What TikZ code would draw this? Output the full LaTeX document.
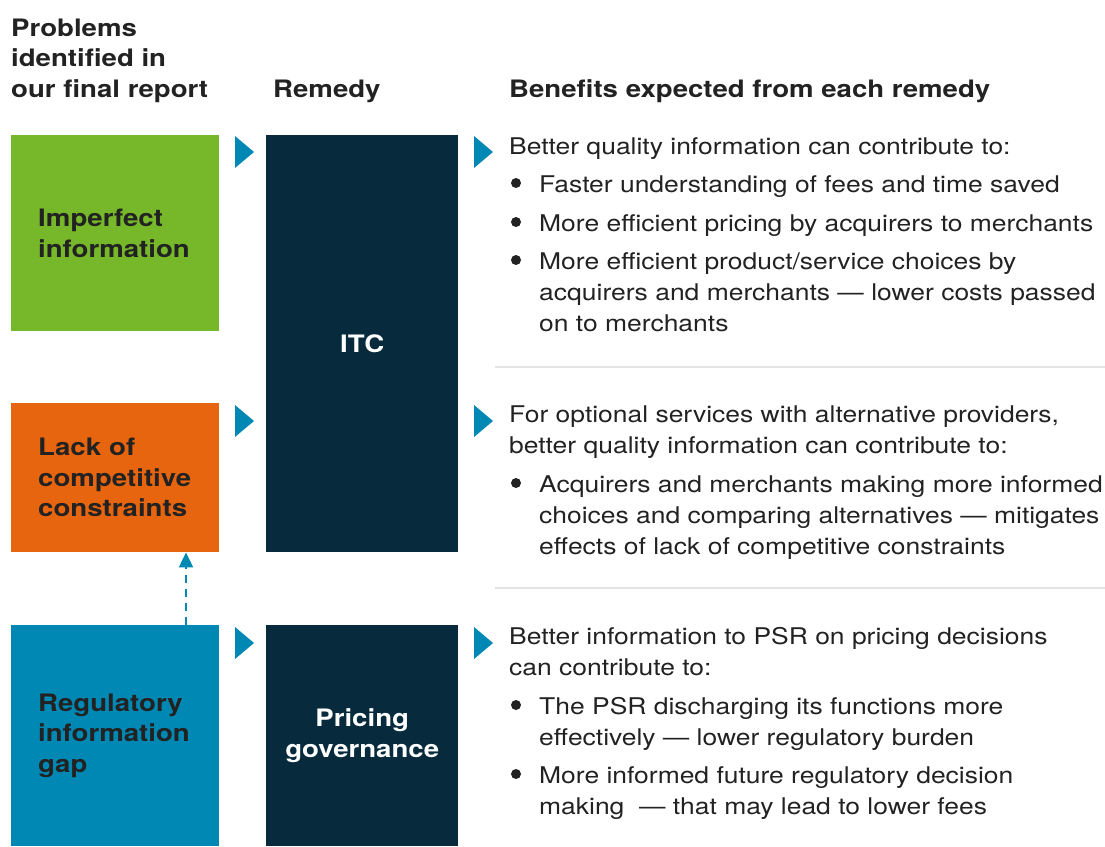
\documentclass[tikz,border=0pt]{standalone}
\usepackage{fontspec}
\setmainfont[FakeStretch=1.15]{TeX Gyre Heros}
\usetikzlibrary{calc}
\usetikzlibrary{arrows.meta}
\definecolor{probgreen}{HTML}{76B82A}
\definecolor{probred}{HTML}{E8650F}
\definecolor{probblue}{HTML}{0088B5}
\definecolor{remnavy}{HTML}{072A3C}
\definecolor{inkgrey}{HTML}{222222}
\definecolor{rulegrey}{HTML}{E3E3E3}
\newcommand{\pointer}[1] % left edge of the blue marker, at its middle
{
	\fill[probblue] ($#1+(0,-16)$) -- ++(19,16) -- ++(-19,16) -- cycle;
}
\tikzset{
	head/.style={anchor=base west, inner sep=0, align=left, text=inkgrey,
		font={\fontsize{24}{30.5}\selectfont\bfseries}},
	problem/.style={anchor=north west, minimum width=208pt, text width=154pt,
		inner xsep=27pt, inner ysep=0, align=left, text=inkgrey,
		font={\fontsize{24}{30.5}\selectfont\bfseries}},
	remedy/.style={anchor=north west, fill=remnavy, minimum width=192pt,
		inner sep=0, align=center, text=white,
		font={\fontsize{24}{30.5}\selectfont\bfseries}},
	benefit/.style={anchor=base west, inner sep=0, align=left, text=inkgrey,
		font={\fontsize{23}{31}\selectfont}},
	dot/.style={circle, fill=inkgrey, inner sep=0, minimum size=10pt},
	rule/.style={rulegrey, line width=2pt},
	feed/.style={probblue, line width=2pt, dash pattern=on 8pt off 6pt,
		-{Triangle[length=15pt, width=14pt]}}
}
\begin{document}
\begin{tikzpicture}[x=1pt, y=-1pt]
	\useasboundingbox (0,0) rectangle (1105,846);
	% column headings (multi-line nodes sit on their last line)
	\node[head] (hprob) at (11,97) {Problems\\identified in\\our final report};
	\node[head] (hrem) at (273,97) {Remedy};
	\node[head] (hben) at (509,97) {Benefits expected from each remedy};

	% problems
	\node[problem, fill=probgreen, minimum height=196pt] (imperfect) at (11,135) {Imperfect\\information};
	\node[problem, fill=probred, minimum height=149pt] (lack) at (11,403) {Lack of\\competitive\\constraints};
	\node[problem, fill=probblue, minimum height=221pt] (gap) at (11,625) {Regulatory\\information\\gap};

	% remedies
	\node[remedy, minimum height=417pt] (itc) at (266,135) {ITC};
	\node[remedy, minimum height=221pt] (pricing) at (266,625) {Pricing\\governance};

	% regulatory gap feeds the lack of constraints
	\coordinate (gapup) at ($(gap.north west)+(175,0)$);
	\draw[feed] (gapup) -- (gapup |- lack.south);

	% markers
	\pointer{(235,152)}
	\pointer{(235,421)}
	\pointer{(235,643)}
	\pointer{(474,152)}
	\pointer{(474,421)}
	\pointer{(474,643)}

	% benefits of the ITC for imperfect information
	\node[benefit] (ben1) at (509,154) {Better quality information can contribute to:};
	\node[dot] (dot1a) at (516,183) {};
	\node[benefit] (ben1a) at (539,192) {Faster understanding of fees and time saved};
	\node[dot] (dot1b) at (516,222) {};
	\node[benefit] (ben1b) at (539,231) {More efficient pricing by acquirers to merchants};
	\node[dot] (dot1c) at (516,260) {};
	\node[benefit] (ben1c) at (539,331) {More efficient product/service choices by\\acquirers and merchants --- lower costs passed\\on to merchants};
	\draw[rule] (495,367) -- (1105,367);

	% benefits of the ITC for lack of constraints
	\node[benefit] (ben2) at (509,453) {For optional services with alternative providers,\\better quality information can contribute to:};
	\node[dot] (dot2a) at (516,483) {};
	\node[benefit] (ben2a) at (539,554) {Acquirers and merchants making more informed\\choices and comparing alternatives --- mitigates\\effects of lack of competitive constraints};
	\draw[rule] (495,588) -- (1105,588);

	% benefits of pricing governance
	\node[benefit] (ben3) at (509,675) {Better information to PSR on pricing decisions\\can contribute to:};
	\node[dot] (dot3a) at (516,705) {};
	\node[benefit] (ben3a) at (539,745) {The PSR discharging its functions more\\effectively --- lower regulatory burden};
	\node[dot] (dot3b) at (516,774) {};
	\node[benefit] (ben3b) at (539,814) {More informed future regulatory decision\\making~ --- that may lead to lower fees};
\end{tikzpicture}
\end{document}
